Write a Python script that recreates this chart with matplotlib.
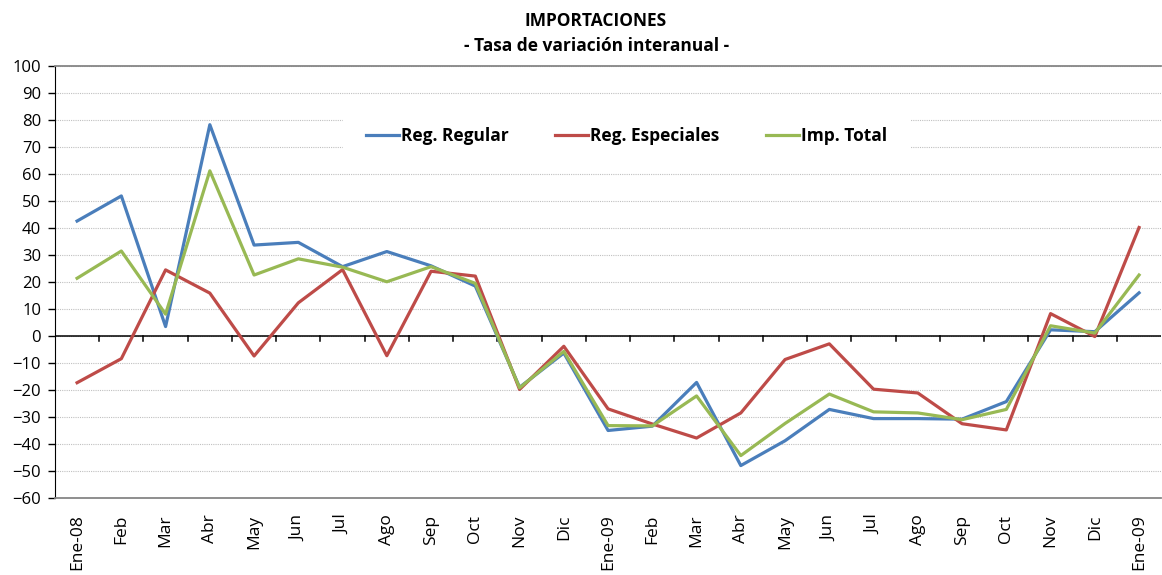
import numpy as np
import matplotlib.pyplot as plt

plt.rcParams['font.family'] = ['Open Sans', 'DejaVu Sans']

meses = ['Ene-08', 'Feb', 'Mar', 'Abr', 'May', 'Jun', 'Jul', 'Ago', 'Sep', 'Oct', 'Nov', 'Dic',
         'Ene-09', 'Feb', 'Mar', 'Abr', 'May', 'Jun', 'Jul', 'Ago', 'Sep', 'Oct', 'Nov', 'Dic', 'Ene-09']

reg_regular = [42.6, 51.9, 3.5, 78.3, 33.7, 34.7, 25.7, 31.3, 26.0, 18.5, -19.0, -6.3,
               -35.0, -33.4, -17.2, -48.0, -38.8, -27.2, -30.6, -30.6, -30.8, -24.3, 2.3, 1.6, 16.0]
reg_especiales = [-17.3, -8.4, 24.5, 15.9, -7.4, 12.3, 24.6, -7.3, 24.0, 22.2, -19.8, -3.8,
                  -27.0, -32.6, -37.8, -28.5, -8.7, -2.9, -19.7, -21.1, -32.5, -34.8, 8.3, -0.2, 40.2]
imp_total = [21.4, 31.5, 8.1, 61.2, 22.6, 28.6, 25.5, 20.1, 25.7, 19.5, -19.2, -5.7,
             -33.2, -33.3, -22.2, -44.3, -32.4, -21.5, -28.1, -28.5, -31.0, -27.2, 3.8, 1.1, 22.6]

fig = plt.figure(figsize=(11.62, 5.75), dpi=100)
ax = fig.add_axes([0.0473, 0.134, 0.952, 0.751])

x = np.arange(len(meses))
ax.plot(x, reg_regular, color='#4a7ebb', lw=2.3, label='Reg. Regular')
ax.plot(x, reg_especiales, color='#be4b48', lw=2.3, label='Reg. Especiales')
ax.plot(x, imp_total, color='#98b954', lw=2.3, label='Imp. Total')

ax.set_xlim(-0.5, len(meses) - 0.5)
ax.set_ylim(-60, 100)
ax.set_yticks(np.arange(-60, 101, 10))
ax.yaxis.grid(True, linestyle=(0, (1, 1)), color='#c0c0c0', lw=0.8)
ax.set_axisbelow(True)

# eje x en el cero, marcas entre categorias
ax.axhline(0, color='black', lw=1.1, zorder=1.5)
for b in np.arange(0.5, len(meses) - 0.5, 1):
    ax.plot([b, b], [0, -2], color='black', lw=1.1, zorder=1.5, clip_on=False)

ax.set_xticks(x)
ax.set_xticklabels(meses, rotation=90, fontsize=12.5)
ax.tick_params(axis='x', length=0, pad=12)
ax.tick_params(axis='y', labelsize=12, length=5, width=1, direction='out', pad=5)

ax.spines['right'].set_visible(False)
ax.spines['top'].set_color('#868686')
ax.spines['bottom'].set_color('#868686')
ax.spines['left'].set_color('black')
ax.spines['top'].set_linewidth(1.3)
ax.spines['bottom'].set_linewidth(1.3)

fig.text(0.513, 0.963, 'IMPORTACIONES', ha='center', va='center', fontsize=12.5, fontweight='bold')
fig.text(0.513, 0.92, '- Tasa de variación interanual -', ha='center', va='center', fontsize=12.5, fontweight='bold')

leg = fig.legend(loc='center', bbox_to_anchor=(0.539, 0.763), ncol=3, frameon=True,
                 prop={'weight': 'bold', 'size': 12.5}, handlelength=1.9, handletextpad=0.1,
                 columnspacing=2.7, borderpad=1.3, borderaxespad=0, fancybox=False)
leg.get_frame().set_facecolor('white')
leg.get_frame().set_edgecolor('white')
leg.get_frame().set_alpha(1)

fig.savefig('out.png', dpi=100)
